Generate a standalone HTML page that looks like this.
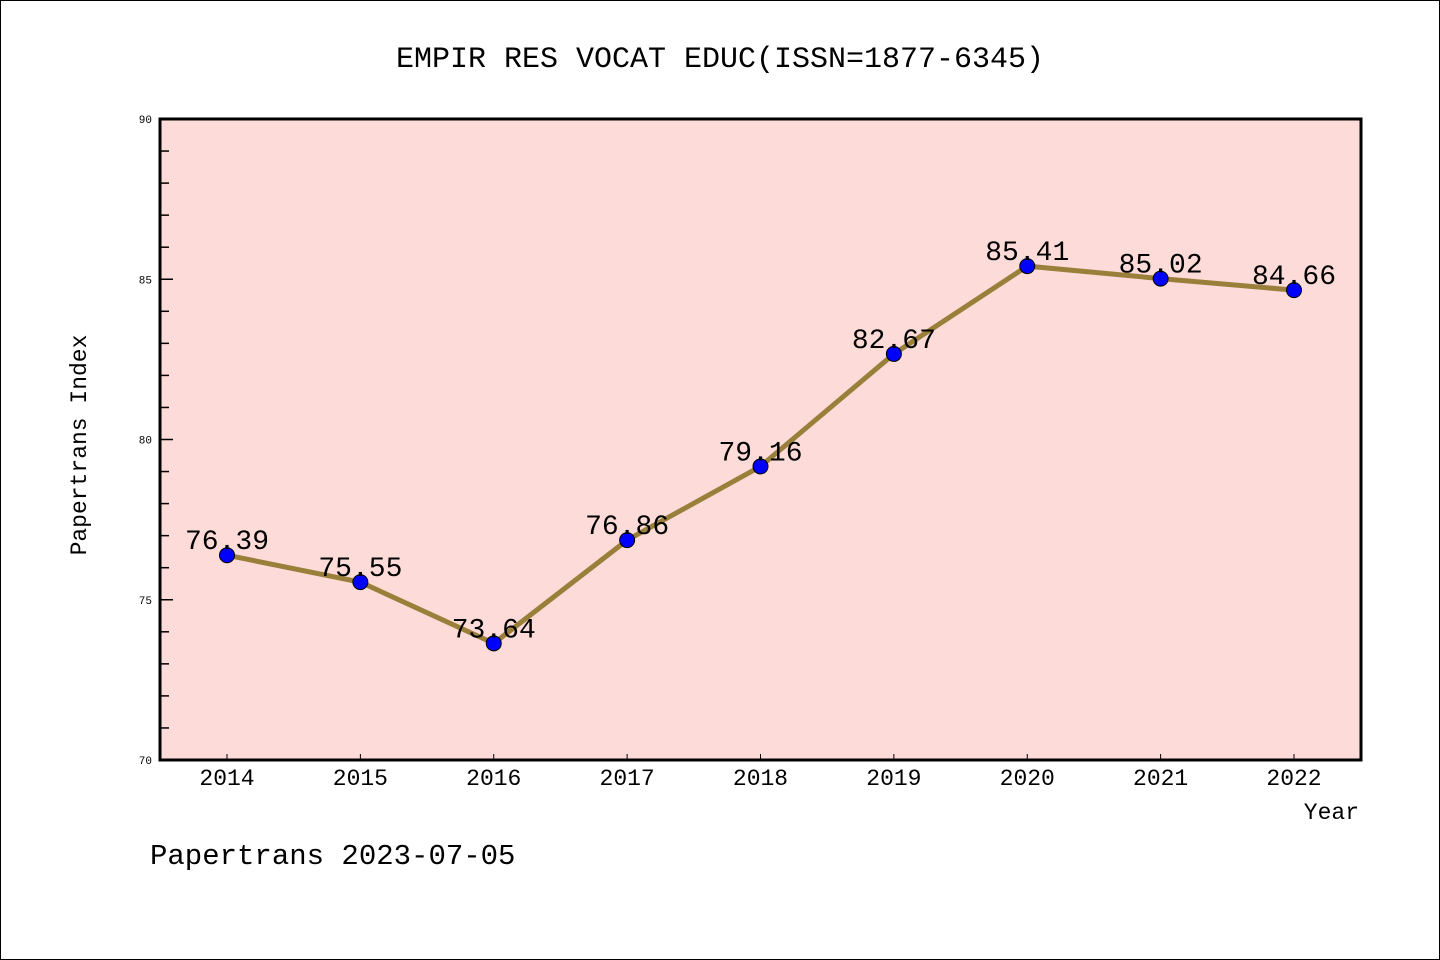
<!DOCTYPE html>
<html><head><meta charset="utf-8"><style>
html,body{margin:0;padding:0;background:#fff}
svg{display:block}
text{font-family:"WenQuanYi Zen Hei Mono","WenQuanYi Zen Hei","Liberation Mono",monospace}
</style></head><body>
<svg id="c" width="1440" height="960" xmlns="http://www.w3.org/2000/svg">
<rect x="0.5" y="0.5" width="1439" height="959" fill="#fff" stroke="#000"/>
<text x="720" y="67" font-size="30" text-anchor="middle">EMPIR RES VOCAT EDUC(ISSN=1877-6345)</text>
<rect x="160" y="119" width="1201" height="641" fill="#fddbd8"/>
<g id="ax"></g>
<g id="marks"></g>
<rect x="160" y="119" width="1201" height="641" fill="none" stroke="#000" stroke-width="3"/>
<text x="86" y="445" font-size="23" text-anchor="middle" transform="rotate(-90 86 445)">Papertrans Index</text>
<text x="1359" y="819" font-size="23" text-anchor="end">Year</text>
<text x="150" y="864" font-size="29">Papertrans 2023-07-05</text>
</svg>
<script>
const years=["2014","2015","2016","2017","2018","2019","2020","2021","2022"];
const values=[76.39,75.55,73.64,76.86,79.16,82.67,85.41,85.02,84.66];
const yTicks=[70,75,80,85,90];
const NS="http://www.w3.org/2000/svg";
const x0=227,x1=1294,yMin=70,yMax=90,yTop=119,yBot=760;
const xs=i=>x0+(x1-x0)*i/(years.length-1);
const ys=v=>yBot-(v-yMin)/(yMax-yMin)*(yBot-yTop);
function mk(t,a,p){const e=document.createElementNS(NS,t);for(const k in a)e.setAttribute(k,a[k]);p.appendChild(e);return e;}
const ax=document.getElementById('ax'),mg=document.getElementById('marks');
for(let v=yMin;v<=yMax;v++){
  const major=v%5===0;
  const l=mk('line',{x1:160,x2:major?173:169,y1:ys(v),y2:ys(v),stroke:'#000','stroke-width':1.5},ax);
  
  
}
yTicks.forEach(v=>{
  const t=mk('text',{x:152,y:ys(v)+4,'font-size':11,'text-anchor':'end'},ax);
  t.textContent=v;
  
  
});
years.forEach((y,i)=>{
  const l=mk('line',{x1:xs(i),x2:xs(i),y1:yBot,y2:yBot-6,stroke:'#000','stroke-width':1},ax);
  
  
  const t=mk('text',{x:xs(i),y:785,'font-size':23,'text-anchor':'middle'},ax);
  t.textContent=y;
  
  
});
const pl=mk('polyline',{points:values.map((v,i)=>xs(i)+','+ys(v)).join(' '),fill:'none',stroke:'#9a7f3b','stroke-width':5},mg);


values.forEach((v,i)=>{
  const c=mk('circle',{cx:xs(i),cy:ys(v),r:7.5,fill:'#0000ff',stroke:'#000','stroke-width':1},mg);
  
  
  const t=mk('text',{x:xs(i),y:ys(v)-6,'font-size':28,'text-anchor':'middle'},mg);
  t.textContent=v.toFixed(2);
  
  
});
</script>
</body></html>
